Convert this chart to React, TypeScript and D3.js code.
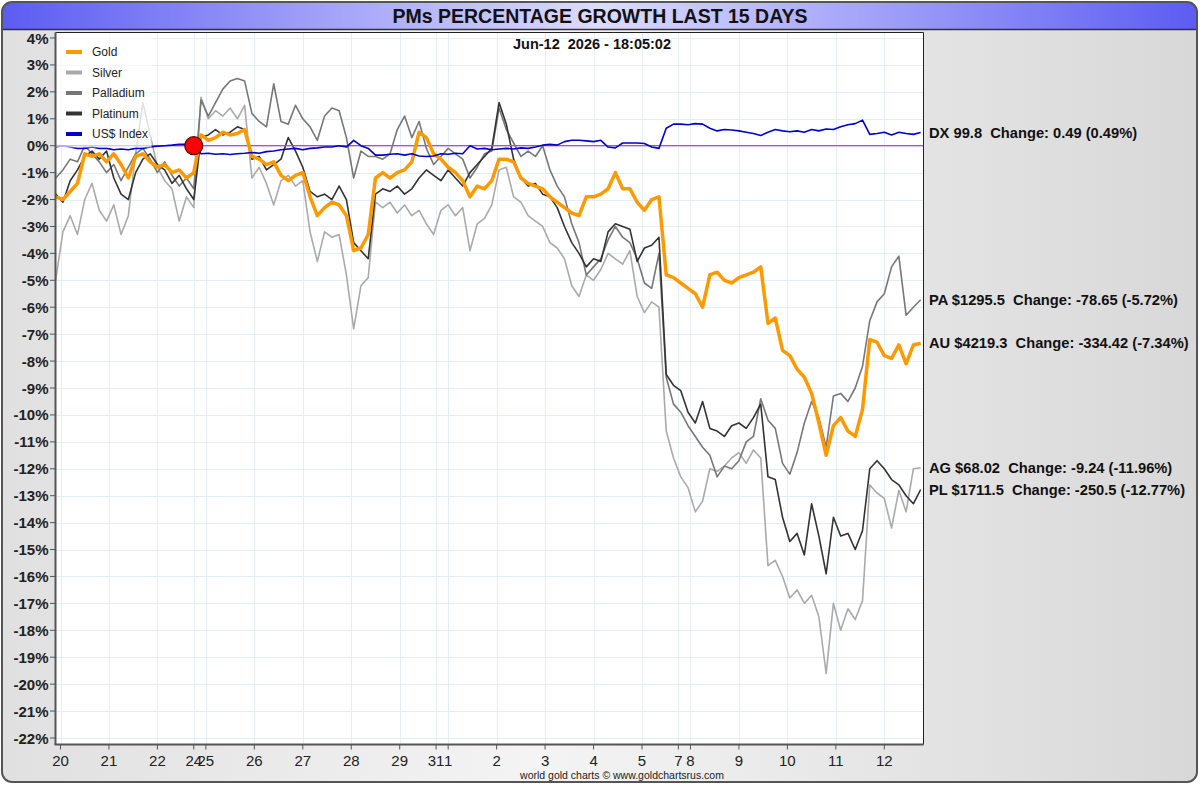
import React from 'react';
import * as d3 from 'd3';

// ---------- DATA ----------
const dayTicks = [0, 1, 2, 2.75, 3, 4, 5, 6, 7, 7.75, 8, 9, 10, 11, 12, 12.75, 13, 14, 15, 16, 17];
const dayLabels = ['20', '21', '22', '24', '25', '26', '27', '28', '29', '31', '1', '2', '3', '4', '5', '7', '8', '9', '10', '11', '12'];
const yTicks = d3.range(4, -23, -1);

// sampling grid in trading-day units
const sampleStart = -0.1;
const sampleStep = 0.15;

const gold = [
  -1.9, -2.0, -1.7, -1.4, -0.3, -0.4, -0.3, -0.6, -0.3, -0.7,
  -1.2, -0.4, -0.3, -0.6, -0.8, -0.7, -1.0, -0.9, -1.2, -1.0,
  0.4, 0.2, 0.3, 0.5, 0.4, 0.45, 0.6, -0.4, -0.5, -0.7,
  -0.6, -1.1, -1.3, -1.1, -1.0, -1.9, -2.6, -2.3, -2.1, -2.2,
  -2.6, -3.9, -3.8, -3.3, -1.2, -1.0, -1.2, -1.0, -0.9, -0.6,
  0.5, 0.3, -0.3, -0.5, -0.8, -1.0, -1.3, -1.9, -1.5, -1.6,
  -1.3, -0.5, -0.5, -0.6, -1.2, -1.4, -1.5, -1.6, -1.9, -2.1,
  -2.3, -2.5, -2.6, -1.9, -1.9, -1.8, -1.6, -1.0, -1.6, -1.6,
  -2.1, -2.4, -2.0, -1.9, -4.8, -4.9, -5.1, -5.3, -5.5, -6.0,
  -4.8, -4.7, -5.0, -5.1, -4.9, -4.8, -4.7, -4.5, -6.6, -6.4,
  -7.6, -7.8, -8.3, -8.6, -9.2, -10.3, -11.5, -10.4, -10.1, -10.6,
  -10.8, -9.8, -7.2, -7.3, -7.8, -7.9, -7.4, -8.1, -7.4, -7.34,
];

const silver = [
  -5.0, -3.2, -2.6, -3.3, -2.0, -1.4, -2.4, -2.8, -2.2, -3.3,
  -2.6, -0.3, 1.6, 0.4, -0.8, -1.3, -1.6, -2.8, -1.9, -2.3,
  1.8, 1.0, 1.3, 1.1, 1.4, 1.0, 1.5, -1.2, -0.8, -1.4,
  -2.2, -1.3, -1.1, -1.5, -1.3, -3.2, -4.3, -3.2, -3.4, -3.3,
  -4.8, -6.8, -5.2, -4.9, -2.1, -2.3, -2.1, -2.5, -2.2, -2.6,
  -2.4, -2.9, -3.3, -2.4, -2.2, -2.6, -2.3, -3.9, -2.9, -2.7,
  -2.2, -0.9, -0.8, -1.9, -2.1, -2.6, -2.8, -3.0, -3.6, -3.8,
  -4.2, -5.2, -5.6, -4.8, -5.0, -4.6, -4.0, -4.2, -4.4, -3.9,
  -5.6, -6.2, -5.8, -6.0, -10.6, -11.6, -12.3, -12.7, -13.6, -13.2,
  -12.0, -12.1, -11.9, -11.6, -11.4, -11.8, -11.3, -11.6, -15.6, -15.4,
  -16.0, -16.8, -16.5, -17.0, -16.7, -17.5, -19.6, -17.0, -18.0, -17.2,
  -17.6, -16.9, -12.6, -12.9, -13.1, -14.2, -12.8, -13.6, -12.0, -11.96,
];

const palladium = [
  -1.2, -0.9, -0.5, -0.6, 0.0, -0.3, -0.6, -1.0, -0.7, -1.3,
  -0.8, -0.3, -0.1, -0.5, -1.0, -0.6, -1.1, -1.5, -1.2, -1.6,
  1.7, 1.1, 1.6, 2.1, 2.4, 2.5, 2.4, 1.2, 0.9, 0.7,
  2.3, 0.9, 0.8, 1.5, 1.0, 0.7, 0.2, 1.1, 1.4, 1.3,
  0.3, -1.2, -0.2, -0.4, -0.4, -0.5, -0.3, 0.6, 1.1, 0.3,
  0.9, -0.1, -0.7, -0.4, -0.1, -0.3, -0.5, -1.2, -0.8, -0.3,
  -0.2, 1.4, 0.6, 0.1, -0.4, -0.2, -0.4, 0.0, -0.9, -1.5,
  -1.9, -2.9, -3.6, -4.8, -4.5, -4.2, -3.5, -3.0, -3.4, -3.6,
  -4.2, -5.1, -5.3, -4.0, -8.6, -9.6, -9.9, -10.4, -10.8, -11.2,
  -11.5, -12.3, -11.9, -12.0, -11.7, -11.0, -10.8, -9.4, -10.2, -10.5,
  -11.8, -12.2, -11.4, -10.3, -9.5, -10.1, -11.2, -9.3, -9.2, -9.5,
  -9.0, -8.2, -6.5, -5.8, -5.5, -4.5, -4.1, -6.3, -6.0, -5.72,
];

const platinum = [
  -1.8, -2.1, -1.3, -0.9, -0.4, -0.2, -0.5, -0.2, -1.2, -1.8,
  -2.0, -1.0, -0.5, -0.3, -0.7, -0.9, -1.4, -1.1, -1.6, -2.0,
  0.3, 0.4, 0.6, 0.4, 0.5, 0.7, 0.6, -0.5, -0.4, -0.9,
  -0.7, -0.5, 0.3, -0.2, -0.8, -1.7, -1.9, -1.8, -2.0, -1.5,
  -2.0, -3.6, -3.9, -4.2, -1.8, -1.6, -1.7, -1.5, -1.8, -1.6,
  -1.2, -0.9, -1.1, -1.3, -0.9, -1.2, -1.5, -1.0, -0.7, -0.4,
  -0.1, 1.6, 0.8, -0.5, -1.2, -1.5, -1.4, -1.8, -1.9, -2.3,
  -3.0, -3.6, -4.0, -4.5, -4.2, -4.3, -3.2, -2.9, -3.0, -3.1,
  -4.3, -3.8, -3.7, -3.4, -8.5, -8.9, -9.1, -9.9, -10.3, -9.5,
  -10.5, -10.6, -10.8, -10.4, -10.3, -10.5, -10.1, -9.6, -12.3, -12.4,
  -13.8, -14.7, -14.4, -15.2, -13.3, -14.5, -15.9, -13.8, -14.5, -14.4,
  -15.0, -14.3, -12.0, -11.7, -12.0, -12.4, -12.6, -13.0, -13.3, -12.77,
];

const dollarIndex = [
  -0.05, 0.0, -0.05, -0.1, -0.1, -0.05, -0.1, -0.1, -0.15, -0.12,
  -0.15, -0.1, -0.1, -0.05, -0.02, 0.0, 0.02, 0.05, 0.05, 0.08,
  -0.3, -0.28, -0.32, -0.3, -0.33, -0.3, -0.28, -0.25, -0.28, -0.22,
  -0.2, -0.15, -0.12, -0.1, -0.15, -0.1, -0.08, -0.05, -0.05, 0.0,
  -0.05, 0.2, 0.0, -0.1, -0.35, -0.35, -0.32, -0.3, -0.35, -0.3,
  -0.38, -0.4, -0.38, -0.3, -0.32, -0.28, -0.3, 0.0, -0.12, -0.1,
  -0.15, -0.12, -0.1, -0.12, -0.08, -0.1, -0.05, 0.02, 0.05, 0.02,
  0.15, 0.2, 0.2, 0.18, 0.15, 0.2, -0.05, -0.08, 0.1, 0.1,
  0.1, 0.08, -0.05, -0.1, 0.65, 0.8, 0.8, 0.78, 0.82, 0.8,
  0.65, 0.55, 0.6, 0.58, 0.55, 0.5, 0.45, 0.38, 0.5, 0.6,
  0.55, 0.52, 0.55, 0.5, 0.6, 0.55, 0.62, 0.6, 0.7, 0.78,
  0.82, 0.95, 0.42, 0.45, 0.5, 0.4, 0.5, 0.45, 0.42, 0.49,
];

const seriesNames = ['Gold', 'Silver', 'Palladium', 'Platinum', 'US$ Index'];
const seriesColors = ['#ff9900', '#aaaaaa', '#777777', '#333333', '#0000cc'];

const endLabels = [
  { text: 'DX 99.8  Change: 0.49 (0.49%)', value: 0.49 },
  { text: 'PA $1295.5  Change: -78.65 (-5.72%)', value: -5.72 },
  { text: 'AU $4219.3  Change: -334.42 (-7.34%)', value: -7.34 },
  { text: 'AG $68.02  Change: -9.24 (-11.96%)', value: -11.96 },
  { text: 'PL $1711.5  Change: -250.5 (-12.77%)', value: -12.77 },
];

const titleText = 'PMs PERCENTAGE GROWTH LAST 15 DAYS';
const dateText = 'Jun-12  2026 - 18:05:02';
const creditText = 'world gold charts \u00A9 www.goldchartsrus.com';
const baseDay = 2.75;
const baseValue = 0;

const FONT = '"Liberation Sans", Arial, Helvetica, sans-serif';

export default function App() {
  const left = 55.5, right = 923.5, top = 32.5, bottom = 744.5;
  const x = d3.scaleLinear().domain([0, 17]).range([60.5, 884.3]);
  const y = d3.scaleLinear().domain([4, -22]).range([38, 738]);
  const times = gold.map((_, i) => sampleStart + sampleStep * i);
  const lineGen = d3
    .line<number>()
    .x((_, i) => x(times[i]))
    .y((v) => y(v))
    .curve(d3.curveLinear);

  return (
    <svg width={1200} height={785} style={{ position: 'absolute', left: 0, top: 0 }} fontFamily={FONT}>
      <defs>
        <linearGradient id="panelGrad" x1="0" x2="1" y1="0" y2="0">
          <stop offset="0%" stopColor="#e0e0e0" />
          <stop offset="45%" stopColor="#f4f4f4" />
          <stop offset="100%" stopColor="#d8d8d8" />
        </linearGradient>
        <linearGradient id="titleGrad" x1="0" x2="1" y1="0" y2="0">
          <stop offset="0%" stopColor="#5c5cf2" />
          <stop offset="50%" stopColor="#dcdcff" />
          <stop offset="100%" stopColor="#5c5cf2" />
        </linearGradient>
        <clipPath id="panelClip">
          <rect x={2} y={2} width={1195} height={780} rx={10} />
        </clipPath>
        <clipPath id="plotClip">
          <rect x={left} y={top} width={right - left} height={bottom - top} />
        </clipPath>
      </defs>

      {/* outer panel */}
      <rect x={2} y={2} width={1195} height={780} rx={10} fill="url(#panelGrad)" />
      <g clipPath="url(#panelClip)">
        <rect x={2} y={2} width={1195} height={27} fill="url(#titleGrad)" />
        <line x1={2} x2={1197} y1={29.5} y2={29.5} stroke="#333" strokeWidth={1.5} />
      </g>
      <rect x={2} y={2} width={1195} height={780} rx={10} fill="none" stroke="#555" strokeWidth={2} />
      <text x={600} y={23} textAnchor="middle" fontSize={19.5} fontWeight="bold" fill="#111">
        {titleText}
      </text>

      {/* plot background */}
      <rect x={left} y={top} width={right - left} height={bottom - top} fill="#ffffff" />

      {/* grid */}
      <g stroke="#e2eef8" strokeWidth={1}>
        {yTicks.map((t) => (
          <line key={'gy' + t} x1={left} x2={right} y1={Math.round(y(t)) + 0.5} y2={Math.round(y(t)) + 0.5} />
        ))}
        {dayTicks.map((t, i) => (
          <line key={'gx' + i} x1={Math.round(x(t)) + 0.5} x2={Math.round(x(t)) + 0.5} y1={top} y2={bottom} />
        ))}
      </g>

      <text x={592} y={48.5} textAnchor="middle" fontSize={14.5} fontWeight="bold" fill="#111" style={{ whiteSpace: 'pre' }}>
        {dateText}
      </text>

      {/* series */}
      <g clipPath="url(#plotClip)" fill="none" strokeLinejoin="round">
        <path d={lineGen(silver) || ''} stroke={seriesColors[1]} strokeWidth={1.6} />
        <path d={lineGen(palladium) || ''} stroke={seriesColors[2]} strokeWidth={1.6} />
        <path d={lineGen(platinum) || ''} stroke={seriesColors[3]} strokeWidth={1.6} />
        <line x1={left} x2={right} y1={y(0)} y2={y(0)} stroke="#d63ad6" strokeWidth={1.2} />
        <path d={lineGen(gold) || ''} stroke={seriesColors[0]} strokeWidth={3.5} />
        <path d={lineGen(dollarIndex) || ''} stroke={seriesColors[4]} strokeWidth={1.6} />
      </g>

      {/* legend */}
      <rect x={left} y={top} width={96} height={115} fill="#ffffff" fillOpacity={0.65} />
      {seriesNames.map((n, i) => (
        <g key={n}>
          <line x1={66} x2={82} y1={52 + i * 20.5} y2={52 + i * 20.5} stroke={seriesColors[i]} strokeWidth={4} />
          <text x={92} y={52 + i * 20.5} dominantBaseline="central" fontSize={12} fill="#222">
            {n}
          </text>
        </g>
      ))}

      {/* base point */}
      <circle cx={x(baseDay)} cy={y(baseValue)} r={9} fill="#ff0000" stroke="#550000" strokeWidth={1.2} />

      {/* frame */}
      <line x1={left} x2={right} y1={top} y2={top} stroke="#222" strokeWidth={1} />
      <line x1={right} x2={right} y1={top} y2={bottom} stroke="#222" strokeWidth={1} />
      <line x1={left} x2={left} y1={top} y2={bottom} stroke="#555" strokeWidth={2} />
      <line x1={left - 1} x2={right} y1={bottom} y2={bottom} stroke="#555" strokeWidth={2} />

      {/* y axis */}
      {yTicks.map((t) => (
        <g key={'ty' + t}>
          <line x1={50} x2={left} y1={y(t)} y2={y(t)} stroke="#555" strokeWidth={1} />
          <text x={48.5} y={y(t)} dominantBaseline="central" textAnchor="end" fontSize={15} fontWeight="bold" fill="#222">
            {t + '%'}
          </text>
        </g>
      ))}

      {/* x axis */}
      {dayTicks.map((t, i) => (
        <g key={'tx' + i}>
          <line x1={x(t)} x2={x(t)} y1={bottom} y2={bottom + 5} stroke="#555" strokeWidth={1} />
          <text x={x(t)} y={766} textAnchor="middle" fontSize={15} fill="#222">
            {dayLabels[i]}
          </text>
        </g>
      ))}

      <text x={622} y={779} textAnchor="middle" fontSize={10.5} fill="#222">
        {creditText}
      </text>

      {/* end labels */}
      {endLabels.map((l) => (
        <text key={l.text} x={929} y={y(l.value)} dominantBaseline="central" fontSize={14.7} fontWeight="bold" fill="#111" style={{ whiteSpace: 'pre' }}>
          {l.text}
        </text>
      ))}
    </svg>
  );
}
